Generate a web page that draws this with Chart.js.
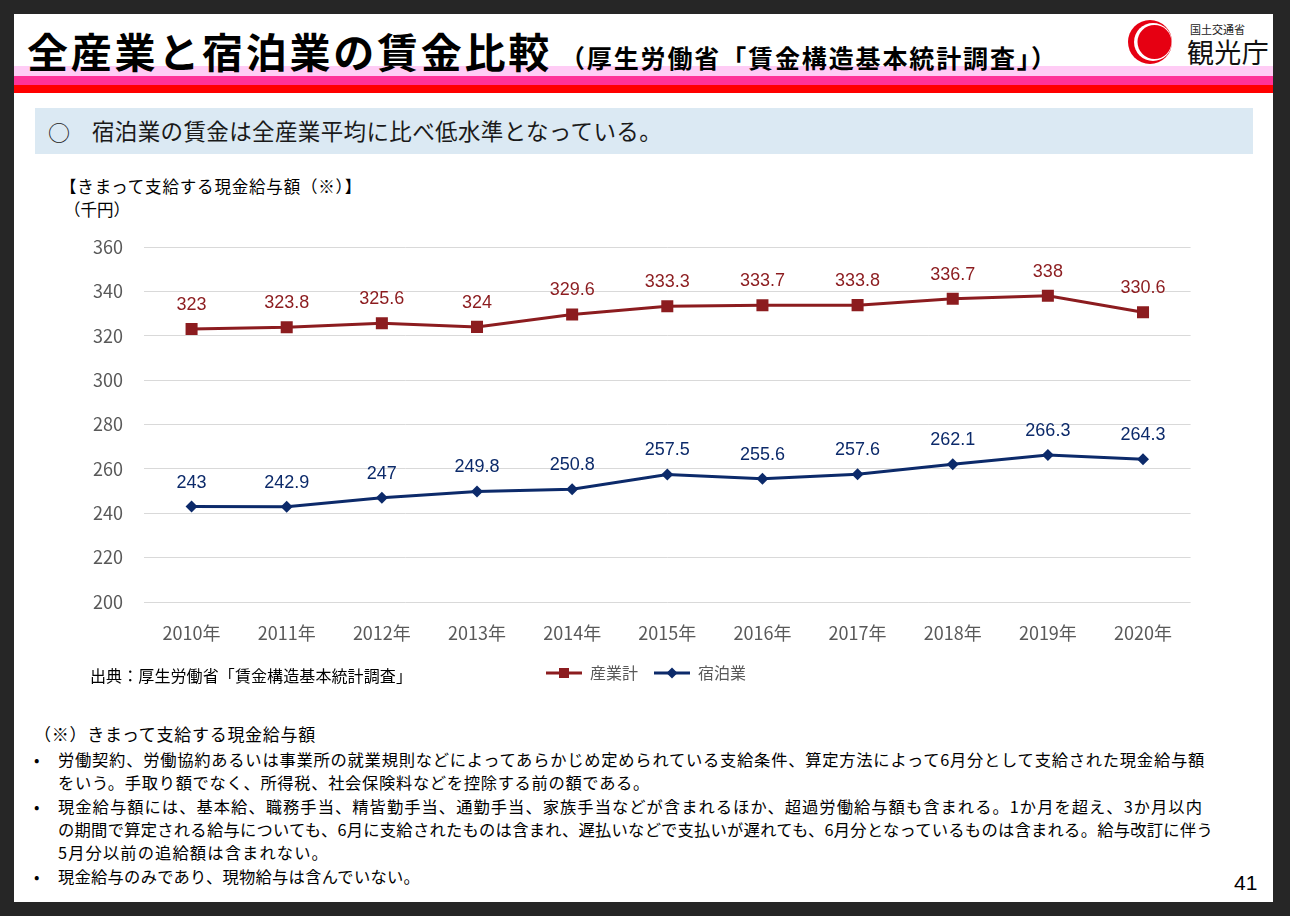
<!DOCTYPE html>
<html lang="ja">
<head>
<meta charset="utf-8">
<script src="https://cdn.jsdelivr.net/npm/chart.js@4"></script>
<style>
  html, body { margin:0; padding:0; }
  body { width:1290px; height:916px; background:#262626; position:relative; overflow:hidden;
         font-family:"Noto Sans CJK JP","Noto Sans",sans-serif; }
  .slide { position:absolute; left:14px; top:14px; width:1259px; height:888px; background:#fff; }
  .abs { position:absolute; white-space:nowrap; line-height:1; }
  #chartWrap { position:absolute; left:60px; top:225px; width:1132px; height:470px; }
</style>
</head>
<body>
<div class="slide"></div>
<div class="abs" style="left:14px;top:66px;width:1259px;height:10px;background:#ffccf5;"></div>
<div class="abs" style="left:14px;top:76px;width:1259px;height:9px;background:#ff3399;"></div>
<div class="abs" style="left:14px;top:85px;width:1259px;height:8px;background:#ff0000;"></div>
<div class="abs fit" data-w="525" style="left:27px;top:30px;font-size:41px;font-weight:700;color:#000;">全産業と宿泊業の賃金比較</div>
<div class="abs fit" data-w="498" style="left:560px;top:45px;font-size:25px;font-weight:700;color:#000;">（厚生労働省「賃金構造基本統計調査」）</div>
<svg class="abs" style="left:1120px;top:16px;" width="64" height="54" viewBox="0 0 64 54">
  <circle cx="30" cy="26" r="22" fill="#e60012"/>
  <circle cx="33" cy="26" r="19" fill="#fff"/>
  <circle cx="34.5" cy="26" r="17" fill="#e60012"/>
</svg>
<div class="abs" style="left:1190px;top:24px;font-size:11px;color:#222;">国土交通省</div>
<div class="abs fit" data-w="82" style="left:1187px;top:38px;font-size:27px;color:#111;">観光庁</div>
<div class="abs" style="left:35px;top:108px;width:1218px;height:46px;background:#dbe9f3;"></div>
<div class="abs" style="left:48px;top:120px;font-size:22px;color:#1a1a1a;">○</div>
<div class="abs fit" data-w="570" style="left:92px;top:119px;font-size:22.5px;color:#1a1a1a;">宿泊業の賃金は全産業平均に比べ低水準となっている。</div>
<div class="abs fit" data-w="302" style="left:60px;top:178px;font-size:16.5px;color:#000;">【きまって支給する現金給与額（※）】</div>
<div class="abs fit" data-w="66" style="left:64px;top:201px;font-size:16.5px;color:#000;">（千円）</div>
<div id="chartWrap"><canvas id="c"></canvas></div>
<div class="abs fit" data-w="322" style="left:90px;top:667px;font-size:16px;color:#000;">出典：厚生労働省「賃金構造基本統計調査」</div>
<div class="abs fit" data-w="282" style="left:34px;top:725px;font-size:17px;color:#000;">（※）きまって支給する現金給与額</div>
<div class="abs" style="left:34px;top:751px;font-size:16px;color:#000;">•</div>
<div class="abs fit" data-w="1147" style="left:58px;top:751px;font-size:16.3px;color:#000;">労働契約、労働協約あるいは事業所の就業規則などによってあらかじめ定められている支給条件、算定方法によって6月分として支給された現金給与額</div>
<div class="abs fit" data-w="592" style="left:58px;top:774px;font-size:16.3px;color:#000;">をいう。手取り額でなく、所得税、社会保険料などを控除する前の額である。</div>
<div class="abs" style="left:34px;top:798px;font-size:16px;color:#000;">•</div>
<div class="abs fit" data-w="1145" style="left:58px;top:798px;font-size:16.3px;color:#000;">現金給与額には、基本給、職務手当、精皆勤手当、通勤手当、家族手当などが含まれるほか、超過労働給与額も含まれる。1か月を超え、3か月以内</div>
<div class="abs fit" data-w="1155" style="left:58px;top:821px;font-size:16.3px;color:#000;">の期間で算定される給与についても、6月に支給されたものは含まれ、遅払いなどで支払いが遅れても、6月分となっているものは含まれる。給与改訂に伴う</div>
<div class="abs fit" data-w="271" style="left:58px;top:844px;font-size:16.3px;color:#000;">5月分以前の追給額は含まれない。</div>
<div class="abs" style="left:34px;top:868px;font-size:16px;color:#000;">•</div>
<div class="abs fit" data-w="362" style="left:58px;top:868px;font-size:16.3px;color:#000;">現金給与のみであり、現物給与は含んでいない。</div>
<div class="abs" style="left:1234px;top:872px;font-size:21px;font-family:Arial,'Liberation Sans',sans-serif;color:#000;">41</div>

<script>
// ---- data ----
const years = ['2010年','2011年','2012年','2013年','2014年','2015年','2016年','2017年','2018年','2019年','2020年'];
const allIndustry = [323, 323.8, 325.6, 324, 329.6, 333.3, 333.7, 333.8, 336.7, 338, 330.6];
const lodging = [243, 242.9, 247, 249.8, 250.8, 257.5, 255.6, 257.6, 262.1, 266.3, 264.3];
const seriesNames = ['産業計', '宿泊業'];
const yMin = 200, yMax = 360, yStep = 20;

const RED = '#8c1c1f';
const NAVY = '#0c2a6a';

// fit text widths to the slide's text extents
document.querySelectorAll('.fit').forEach(el => {
  const target = parseFloat(el.dataset.w);
  const n = [...el.textContent].length;
  const w = el.getBoundingClientRect().width;
  el.style.letterSpacing = ((target - w) / n) + 'px';
});

function legendIcon(color, shape) {
  const c = document.createElement('canvas');
  c.width = 36; c.height = 14;
  const g = c.getContext('2d');
  g.strokeStyle = color; g.lineWidth = 3;
  g.beginPath(); g.moveTo(0, 7); g.lineTo(36, 7); g.stroke();
  g.fillStyle = color;
  if (shape === 'rect') { g.fillRect(13, 2, 10, 10); }
  else { g.beginPath(); g.moveTo(18, 1.5); g.lineTo(23.5, 7); g.lineTo(18, 12.5); g.lineTo(12.5, 7); g.closePath(); g.fill(); }
  return c;
}
const icons = [legendIcon(RED, 'rect'), legendIcon(NAVY, 'diamond')];

const valueLabels = {
  id: 'valueLabels',
  afterDatasetsDraw(chart) {
    const ctx = chart.ctx;
    ctx.save();
    ctx.font = '18px Arial, "Liberation Sans", sans-serif';
    ctx.textAlign = 'center';
    ctx.textBaseline = 'middle';
    chart.data.datasets.forEach((ds, i) => {
      const meta = chart.getDatasetMeta(i);
      ctx.fillStyle = ds.borderColor;
      meta.data.forEach((pt, j) => {
        ctx.fillText(String(ds.data[j]), pt.x, pt.y - 24);
      });
    });
    ctx.restore();
  }
};

// shift legend to the right so it is centred like the original slide
const legendShift = {
  id: 'legendShift',
  afterLayout(chart) {
    const lg = chart.legend;
    if (lg) { lg.left += 20; lg.right += 20; }
  }
};

new Chart(document.getElementById('c'), {
  type: 'line',
  data: {
    labels: years,
    datasets: [
      { label: seriesNames[0], data: allIndustry, borderColor: RED, backgroundColor: RED,
        borderWidth: 3, pointStyle: 'rect', pointRadius: 8.5, pointBorderWidth: 0, tension: 0 },
      { label: seriesNames[1], data: lodging, borderColor: NAVY, backgroundColor: NAVY,
        borderWidth: 3, pointStyle: 'rectRot', pointRadius: 6, pointBorderWidth: 0, tension: 0 }
    ]
  },
  options: {
    responsive: true, maintainAspectRatio: false, animation: false, devicePixelRatio: 1,
    layout: { autoPadding: false, padding: { top: 22, left: 0, right: 0, bottom: 4 } },
    plugins: {
      tooltip: { enabled: false },
      legend: {
        position: 'bottom',
        labels: {
          usePointStyle: true, pointStyleWidth: 36, padding: 16, color: '#595959',
          font: { family: '"Noto Sans CJK JP", sans-serif', size: 16 },
          generateLabels(chart) {
            return chart.data.datasets.map((ds, i) => ({
              text: ds.label, pointStyle: icons[i], fillStyle: ds.borderColor,
              strokeStyle: ds.borderColor, lineWidth: 0, fontColor: '#595959', hidden: false, datasetIndex: i
            }));
          }
        }
      }
    },
    scales: {
      x: {
        offset: true,
        grid: { display: false, drawTicks: false },
        border: { display: false },
        ticks: { color: '#595959', padding: 20, font: { family: '"Noto Sans CJK JP", sans-serif', size: 18 } },
        afterFit(s) { s.height = 47; }
      },
      y: {
        min: yMin, max: yMax,
        grid: { color: '#d9d9d9', lineWidth: 1, drawTicks: false },
        border: { display: false },
        ticks: { stepSize: yStep, color: '#595959', padding: 21, font: { family: '"Noto Sans CJK JP", sans-serif', size: 18 } },
        afterFit(s) { s.width = 84; s.paddingTop = 10; s.paddingBottom = 10; }
      }
    }
  },
  plugins: [valueLabels, legendShift]
});
</script>
</body>
</html>
